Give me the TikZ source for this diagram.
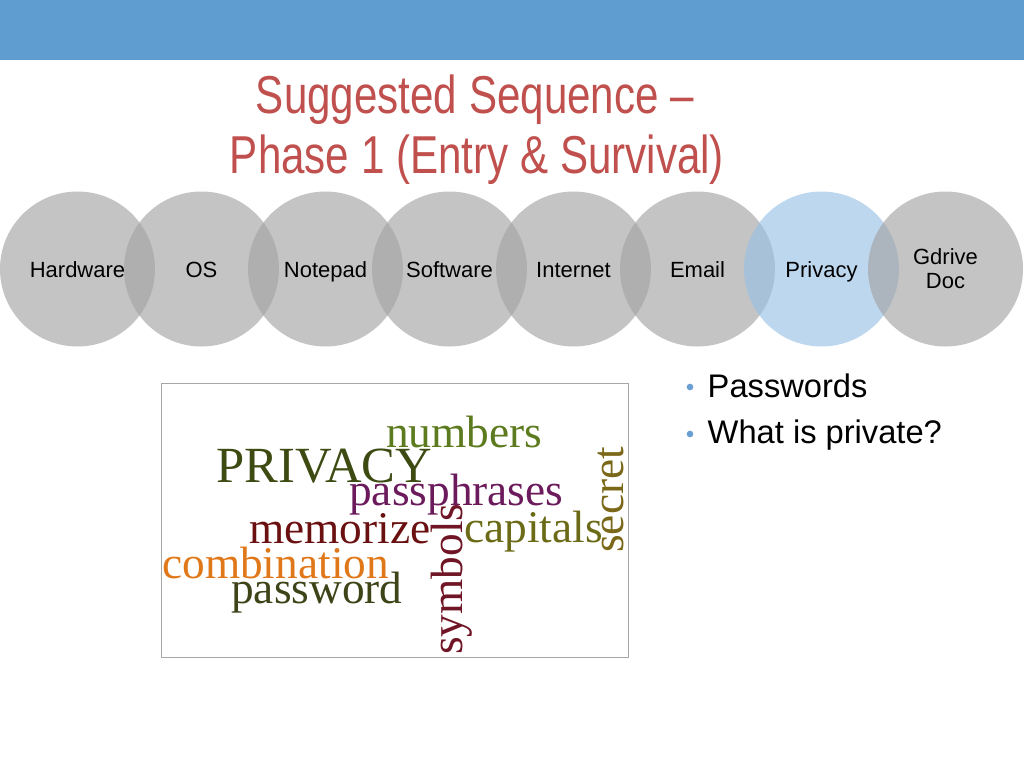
\documentclass[tikz,border=0pt]{standalone}
\usepackage{fontspec}
\setmainfont{Liberation Sans}
\newfontfamily\titlefont[FakeStretch=0.79]{Liberation Sans}
\newfontfamily\cloudfont{Liberation Serif}
\usetikzlibrary{positioning}

\definecolor{barblue}{HTML}{5F9DD1}
\definecolor{titlered}{HTML}{C0504D}
\definecolor{stagegray}{HTML}{A3A3A3}
\definecolor{privblue}{HTML}{98C1E4}
\definecolor{bulletblue}{HTML}{6A9FD3}
\definecolor{framegray}{HTML}{A6A6A6}
\definecolor{numgreen}{HTML}{5C7A1E}
\definecolor{privolive}{HTML}{3D4A12}
\definecolor{phrasepurple}{HTML}{6B1A5B}
\definecolor{memored}{HTML}{6A1010}
\definecolor{capolive}{HTML}{6B6A16}
\definecolor{secretolive}{HTML}{7A6818}
\definecolor{symred}{HTML}{701525}
\definecolor{comborange}{HTML}{E0781A}
\definecolor{pwolive}{HTML}{3E4318}

\begin{document}
\begin{tikzpicture}[x=0.75pt, y=-0.75pt, node distance=93pt,
    stage/.style={circle, fill=stagegray, fill opacity=0.64, text opacity=1, minimum size=116.25pt, inner sep=0pt, align=center, text height=16.5pt, text depth=4.5pt, font=\fontsize{16.5}{18}\selectfont},
    word/.style={anchor=base west, inner sep=0pt, font=\cloudfont\fontsize{34}{34}\selectfont},
    dot/.style={circle, fill=bulletblue, inner sep=0pt, minimum size=5pt}]

    \useasboundingbox (0,0) rectangle (1024,768);
    % top band
    \fill[barblue] (0,0) rectangle (1024,60);

    % title
    \node[anchor=base, text=titlered, font=\titlefont\fontsize{40}{45}\selectfont] (title1) at (475,113) {Suggested Sequence –};
    \node[anchor=base, text=titlered, font=\titlefont\fontsize{40}{45}\selectfont] (title2) at (477,173) {Phase 1 (Entry \& Survival)};

    % the sequence of stages
    \node[stage] (hw) at (77.5,269) {Hardware};
    \node[stage, right of=hw] (os) {OS};
    \node[stage, right of=os] (np) {Notepad};
    \node[stage, right of=np] (sw) {Software};
    \node[stage, right of=sw] (net) {Internet};
    \node[stage, right of=net] (mail) {Email};
    \node[stage, right of=mail, fill=privblue] (priv) {Privacy}; % current stage
    \node[stage, right of=priv, text height=, text depth=] (gd) {Gdrive\\Doc};

    % word cloud
    \node[draw=framegray, line width=0.75pt, minimum width=350.25pt, minimum height=205.5pt, inner sep=0pt] (cloud) at (394.5,520) {};
    \node[word, text=numgreen] (numbers) at (386,447) {numbers};
    \node[word, text=privolive, font=\cloudfont\fontsize{38}{38}\selectfont] (privacy) at (216,482) {PRIVACY};
    \node[word, text=phrasepurple] (phrases) at (349,505) {passphrases};
    \node[word, text=memored] (memorize) at (249,543) {memorize};
    \node[word, text=capolive] (capitals) at (464,542) {capitals};
    \node[word, text=secretolive, rotate=90] (secret) at (623,553) {secret};
    \node[word, text=symred, rotate=90] (symbols) at (462,655) {symbols};
    \node[word, text=comborange] (combination) at (162,578) {combination};
    \node[word, text=pwolive] (password) at (231,603) {password};

    % bullets
    \node[anchor=base west, font=\fontsize{24.5}{28}\selectfont] (pwd) at (703,397) {Passwords};
    \node[anchor=base west, font=\fontsize{24.5}{28}\selectfont] (what) at (703,443) {What is private?};
    \node[dot] (d1) at (690,387) {};
    \node[dot] (d2) at (690,434) {};
\end{tikzpicture}
\end{document}
